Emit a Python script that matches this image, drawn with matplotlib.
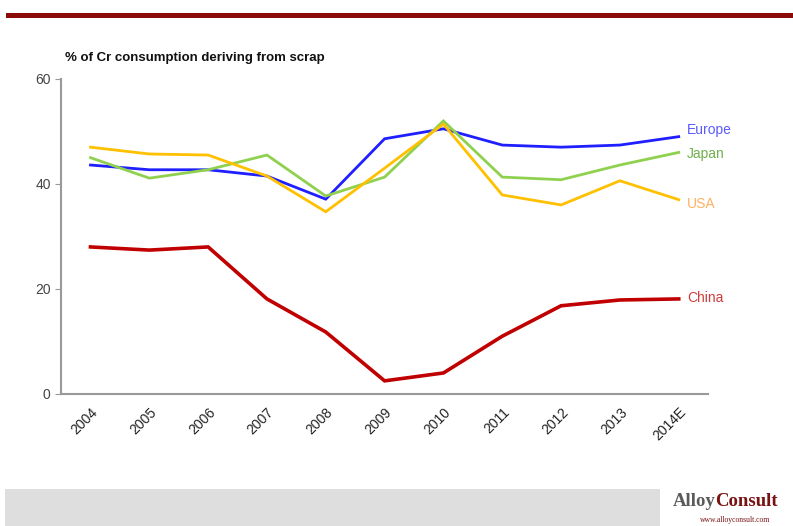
import matplotlib.pyplot as plt
from matplotlib.patches import Rectangle

years = ["2004", "2005", "2006", "2007", "2008", "2009", "2010", "2011", "2012", "2013", "2014E"]
europe = [43.6, 42.7, 42.7, 41.5, 37.1, 48.6, 50.5, 47.4, 47.0, 47.4, 49.0]
japan = [45.0, 41.1, 42.7, 45.5, 37.7, 41.3, 52.0, 41.3, 40.8, 43.6, 46.0]
usa = [47.0, 45.7, 45.5, 41.5, 34.7, 43.0, 51.4, 37.9, 36.0, 40.6, 37.0]
china = [28.0, 27.4, 28.0, 18.1, 11.8, 2.5, 4.0, 11.0, 16.8, 17.9, 18.1]

plt.rcParams['font.family'] = ['Liberation Sans', 'DejaVu Sans']

fig = plt.figure(figsize=(7.93, 5.26), dpi=100)
ax = fig.add_axes([0.077, 0.251, 0.816, 0.599])

x = list(range(len(years)))
series = [
    ("Europe", europe, "#1f1fff", "#5a5aff", 2.0, (6, 4.5)),
    ("Japan", japan, "#8fd14f", "#6fb04a", 2.0, (6, -1)),
    ("USA", usa, "#ffc000", "#ffb060", 2.0, (6, -3)),
    ("China", china, "#c00000", "#d03c3c", 2.6, (6, 1)),
]
for name, vals, col, lcol, lw, off in series:
    ax.plot(x, vals, color=col, lw=lw, solid_joinstyle='miter')
    ax.annotate(name, (x[-1], vals[-1]), xytext=off, textcoords='offset points',
                color=lcol, fontsize=10, va='center', ha='left', annotation_clip=False)

ax.set_xlim(-0.5, len(years) - 0.5)
ax.set_ylim(0, 60)
ax.set_yticks([0, 20, 40, 60])
ax.set_xticks(x)
ax.set_xticklabels(years, rotation=45, ha='right', rotation_mode='anchor')
ax.tick_params(axis='x', length=0, labelsize=10, colors='#222222', pad=8)
ax.tick_params(axis='y', length=4, labelsize=10, colors='#999999', labelcolor='#444444')
for s in ['top', 'right']:
    ax.spines[s].set_visible(False)
for s in ['left', 'bottom']:
    ax.spines[s].set_color('#999999')
    ax.spines[s].set_linewidth(1.5)

fig.text(0.082, 0.890, "% of Cr consumption deriving from scrap", fontsize=9.5,
         fontweight='bold', color='#111111', va='center')

# header band and footer bar
fig.add_artist(Rectangle((0.008, 0.965), 0.992, 0.010, transform=fig.transFigure,
                         color='#8b0a0a', lw=0))
fig.add_artist(Rectangle((0.006, 0.0), 0.826, 0.071, transform=fig.transFigure,
                         color='#dedede', lw=0))
alloy = fig.text(0.848, 0.038, "Alloy", fontsize=13.5, family='Liberation Serif',
                 fontweight='bold', color='#5a5a5a', va='baseline')
ax.annotate("Consult", xy=(1, 0), xycoords=alloy, fontsize=13.5,
            family='Liberation Serif', fontweight='bold', color='#7a1212',
            va='bottom', ha='left', annotation_clip=False)
fig.text(0.971, 0.008, "www.alloyconsult.com", fontsize=5.5, family='Liberation Serif',
         color='#7a1212', va='baseline', ha='right')

fig.savefig("out.png", dpi=100)
